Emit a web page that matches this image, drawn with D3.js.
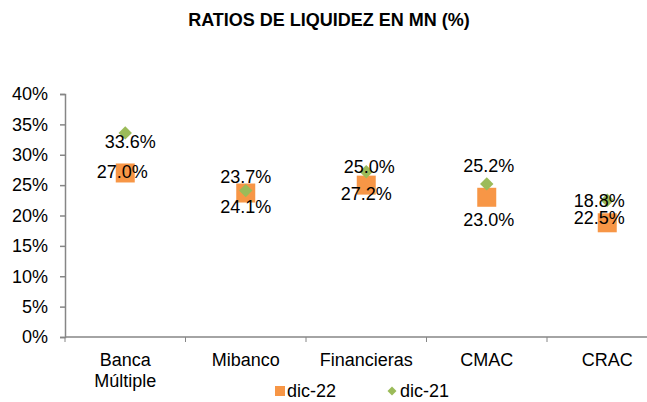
<!DOCTYPE html>
<html>
<head>
<meta charset="utf-8">
<script src="https://cdn.jsdelivr.net/npm/d3@7"></script>
<style>
  body { margin: 0; background: #fff; }
  text { font-family: "Liberation Sans", Arial, sans-serif; }
</style>
</head>
<body>
<div id="chart"></div>
<script>
(function () {
    var width = 647,
        height = 402;

    // data
    var categories = ["Banca Múltiple", "Mibanco", "Financieras", "CMAC", "CRAC"];
    var dic22 = [27.0, 23.7, 25.0, 23.0, 18.8];
    var dic21 = [33.6, 24.1, 27.2, 25.2, 22.5];
    var yTicks = [0, 5, 10, 15, 20, 25, 30, 35, 40];

    // label nudges (px) as placed in the original chart
    var lab22 = [[-3, -1], [0, -16], [3, -18], [2, 22], [-8, -22]];
    var lab21 = [[5, 9], [0, 16], [0, 22], [2, -18], [-8, 17]];

    var orange = "#F79646",
        green = "#9BBB59",
        axisColor = "#868686";

    var margin = { left: 65, top: 94, bottom: 337 };

    var svg = d3.select("#chart")
        .append("svg")
        .attr("width", width)
        .attr("height", height);

    svg.append("text")
        .attr("x", 329)
        .attr("y", 26)
        .attr("text-anchor", "middle")
        .style("font-size", "18px")
        .style("font-weight", "bold")
        .text("RATIOS DE LIQUIDEZ EN MN (%)");

    var x = d3.scaleBand()
        .domain(categories)
        .range([margin.left, margin.left + 120.5 * 5]);

    var y = d3.scaleLinear()
        .domain([0, 40])
        .range([margin.bottom, margin.top]);

    // y axis
    var yAxis = svg.append("g")
        .attr("transform", "translate(" + margin.left + ",0)")
        .call(d3.axisLeft(y).tickValues(yTicks).tickSize(5).tickPadding(12)
            .tickFormat(function (d) { return d + "%"; }));
    yAxis.selectAll("text").style("font-size", "18px").attr("fill", "#000");

    // x axis
    var xAxis = svg.append("g")
        .attr("transform", "translate(0," + margin.bottom + ")")
        .call(d3.axisBottom(x).tickSize(0).tickFormat(""));
    xAxis.select(".domain").attr("d", "M" + margin.left + ",0H" + width);

    xAxis.selectAll(".sep")
        .data(d3.range(categories.length + 1))
        .enter().append("line")
        .attr("class", "sep")
        .attr("x1", function (i) { return margin.left + i * x.bandwidth(); })
        .attr("x2", function (i) { return margin.left + i * x.bandwidth(); })
        .attr("y1", 0).attr("y2", 5)
        .attr("stroke", axisColor);

    svg.selectAll(".domain, .tick line").attr("stroke", axisColor).attr("stroke-width", 1.5);

    // category labels
    var catLabels = svg.selectAll(".cat")
        .data(categories)
        .enter().append("text")
        .attr("class", "cat")
        .attr("text-anchor", "middle")
        .attr("y", 366)
        .style("font-size", "18px");
    catLabels.each(function (d) {
        var words = d.split(" ");
        var t = d3.select(this);
        words.forEach(function (w, i) {
            t.append("tspan")
                .attr("x", x(d) + x.bandwidth() / 2)
                .attr("dy", i === 0 ? 0 : 21)
                .text(w);
        });
    });

    var cx = function (i) { return x(categories[i]) + x.bandwidth() / 2; };

    // dic-22 squares
    svg.selectAll(".sq")
        .data(dic22)
        .enter().append("rect")
        .attr("class", "sq")
        .attr("x", function (d, i) { return cx(i) - 9.5; })
        .attr("y", function (d) { return y(d) - 9.5; })
        .attr("width", 19)
        .attr("height", 19)
        .attr("fill", orange);

    // dic-21 diamonds
    var diamond = d3.symbol().type(d3.symbolSquare).size(90);
    svg.selectAll(".dm")
        .data(dic21)
        .enter().append("path")
        .attr("class", "dm")
        .attr("d", diamond)
        .attr("transform", function (d, i) {
            return "translate(" + cx(i) + "," + y(d) + ") rotate(45)";
        })
        .attr("fill", green);

    // value labels
    function addLabels(vals, offs, cls) {
        svg.selectAll("." + cls)
            .data(vals)
            .enter().append("text")
            .attr("class", cls)
            .attr("text-anchor", "middle")
            .attr("x", function (d, i) { return cx(i) + offs[i][0]; })
            .attr("y", function (d, i) { return y(d) + offs[i][1]; })
            .attr("dy", "0.35em")
            .style("font-size", "18px")
            .text(function (d) { return d.toFixed(1) + "%"; });
    }
    addLabels(dic22, lab22, "l22");
    addLabels(dic21, lab21, "l21");

    // legend
    var legend = svg.append("g").attr("transform", "translate(0,391)");
    legend.append("rect")
        .attr("x", 275).attr("y", -5)
        .attr("width", 10).attr("height", 10)
        .attr("fill", orange);
    legend.append("text")
        .attr("x", 287).attr("dy", "0.35em")
        .style("font-size", "18px")
        .text("dic-22");
    legend.append("path")
        .attr("d", d3.symbol().type(d3.symbolSquare).size(40))
        .attr("transform", "translate(392,0) rotate(45)")
        .attr("fill", green);
    legend.append("text")
        .attr("x", 400).attr("dy", "0.35em")
        .style("font-size", "18px")
        .text("dic-21");
})();
</script>
</body>
</html>
